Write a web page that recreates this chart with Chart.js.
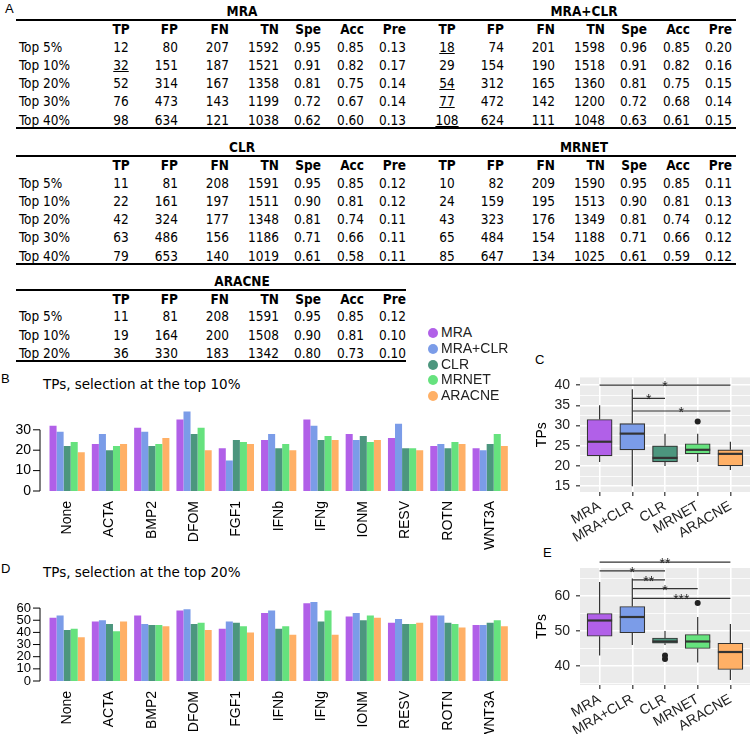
<!DOCTYPE html>
<html>
<head>
<meta charset="utf-8">
<title>TPs per method</title>
<script src="https://cdn.jsdelivr.net/npm/chart.js@4.4.1/dist/chart.umd.min.js"></script>
<style>
  body { margin: 0; width: 754px; height: 734px; position: relative; overflow: hidden; background: #fff;
         font-family: "Liberation Sans", Arial, sans-serif; color: #000; }
  .abs { position: absolute; white-space: nowrap; }
  .tbl { font-family: "Liberation Sans Narrow", "DejaVu Sans Condensed", sans-serif; font-size: 13.5px; line-height: 18px; height: 18px; }
  .hd { font-weight: bold; }
  .rule { position: absolute; border-top: 2px solid #000; height: 0; }
  .letter { font-size: 13px; line-height: 1; }
  .ptitle { font-family: "DejaVu Sans", Verdana, sans-serif; font-size: 13.5px; line-height: 1; }
  .wrap { position: absolute; }
  .leg { font-size: 14px; line-height: 16px; height: 16px; color: #222; }
  .dot { display: inline-block; width: 10px; height: 10px; border-radius: 50%; vertical-align: -1px; margin-right: 3px; }
</style>
</head>
<body>

<div class="abs letter" style="left:5px;top:2px">A</div>
<div class="abs letter" style="left:1px;top:372px">B</div>
<div class="abs letter" style="left:535px;top:353px">C</div>
<div class="abs letter" style="left:1px;top:562px">D</div>
<div class="abs letter" style="left:543px;top:546px">E</div>

<div class="abs ptitle" style="left:43px;top:378px">TPs, selection at the top 10%</div>
<div class="abs ptitle" style="left:43px;top:566px">TPs, selection at the top 20%</div>

<div class="wrap" style="left:0;top:386px;width:517px;height:165px"><canvas id="chartB"></canvas></div>
<div class="wrap" style="left:0;top:578px;width:517px;height:163px"><canvas id="chartD"></canvas></div>
<div class="wrap" style="left:530px;top:363px;width:224px;height:189px"><canvas id="chartC"></canvas></div>
<div class="wrap" style="left:530px;top:548px;width:224px;height:197px"><canvas id="chartE"></canvas></div>

<div id="legend"></div>

<script>
// ---- data ----
const methods = ["MRA", "MRA+CLR", "CLR", "MRNET", "ARACNE"];
const colors = ["#b160e8", "#7b9ce8", "#4c967e", "#66e27e", "#ffb066"];
const perturbations = ["None", "ACTA", "BMP2", "DFOM", "FGF1", "IFNb", "IFNg", "IONM", "RESV", "ROTN", "WNT3A"];

// TPs at the top 10%
const top10MRA    = [32, 23, 31, 35, 21, 25, 35, 28, 26, 22, 21];
const top10MRACLR = [29, 28, 29, 39, 15, 28, 32, 25, 33, 23, 20];
const top10CLR    = [22, 20, 22, 28, 25, 21, 25, 27, 21, 21, 23];
const top10MRNET  = [24, 22, 23, 31, 24, 23, 27, 24, 21, 24, 28];
const top10ARACNE = [19, 23, 26, 20, 23, 20, 25, 25, 20, 23, 22];

// TPs at the top 20%
const top20MRA    = [52, 49, 54, 58, 43, 56, 64, 53, 48, 54, 46];
const top20MRACLR = [54, 50, 47, 59, 49, 58, 65, 56, 51, 54, 46];
const top20CLR    = [42, 47, 46, 47, 48, 43, 49, 50, 47, 48, 48];
const top20MRNET  = [43, 41, 46, 48, 45, 45, 58, 54, 47, 47, 50];
const top20ARACNE = [36, 49, 45, 42, 40, 38, 38, 52, 48, 44, 45];

// significance brackets: [group a, group b, level, label]
const signifC = [[0, 4, 40, "*"], [1, 2, 36.7, "*"], [1, 4, 33.6, "*"]];
const signifE = [[0, 4, 69.7, "**"], [0, 2, 67.2, "*"], [1, 2, 64.6, "**"], [1, 3, 62.1, "*"], [1, 4, 59.3, "***"]];

// table A
const tableCols = ["TP", "FP", "FN", "TN", "Spe", "Acc", "Pre"];
const rowLabels = ["Top 5%", "Top 10%", "Top 20%", "Top 30%", "Top 40%"];
const tabMRA = [
  [12, 80, 207, 1592, "0.95", "0.85", "0.13"],
  [32, 151, 187, 1521, "0.91", "0.82", "0.17"],
  [52, 314, 167, 1358, "0.81", "0.75", "0.14"],
  [76, 473, 143, 1199, "0.72", "0.67", "0.14"],
  [98, 634, 121, 1038, "0.62", "0.60", "0.13"]];
const tabMRACLR = [
  [18, 74, 201, 1598, "0.96", "0.85", "0.20"],
  [29, 154, 190, 1518, "0.91", "0.82", "0.16"],
  [54, 312, 165, 1360, "0.81", "0.75", "0.15"],
  [77, 472, 142, 1200, "0.72", "0.68", "0.14"],
  [108, 624, 111, 1048, "0.63", "0.61", "0.15"]];
const tabCLR = [
  [11, 81, 208, 1591, "0.95", "0.85", "0.12"],
  [22, 161, 197, 1511, "0.90", "0.81", "0.12"],
  [42, 324, 177, 1348, "0.81", "0.74", "0.11"],
  [63, 486, 156, 1186, "0.71", "0.66", "0.11"],
  [79, 653, 140, 1019, "0.61", "0.58", "0.11"]];
const tabMRNET = [
  [10, 82, 209, 1590, "0.95", "0.85", "0.11"],
  [24, 159, 195, 1513, "0.90", "0.81", "0.13"],
  [43, 323, 176, 1349, "0.81", "0.74", "0.12"],
  [65, 484, 154, 1188, "0.71", "0.66", "0.12"],
  [85, 647, 134, 1025, "0.61", "0.59", "0.12"]];
const tabARACNE = [
  [11, 81, 208, 1591, "0.95", "0.85", "0.12"],
  [19, 164, 200, 1508, "0.90", "0.81", "0.10"],
  [36, 330, 183, 1342, "0.80", "0.73", "0.10"]];
// rows whose TP is underlined (best value)
const underMRA = [1];
const underMRACLR = [0, 2, 3, 4];

// ---- table A ----
const colX = [121, 178, 229, 279, 321, 364, 406];  // TP centred, others right edge

function addText(txt, x, y, align, cls) {
  const d = document.createElement('div');
  d.className = 'abs tbl ' + (cls || '');
  d.textContent = txt;
  d.style.top = (y - 9) + 'px';
  if (align === 'left') {
    d.style.left = x + 'px';
  } else if (align === 'center') {
    d.style.left = (x - 40) + 'px'; d.style.width = '80px'; d.style.textAlign = 'center';
  } else {
    d.style.left = (x - 80) + 'px'; d.style.width = '80px'; d.style.textAlign = 'right';
  }
  document.body.appendChild(d);
  return d;
}

function addRule(x1, x2, y) {
  const r = document.createElement('div');
  r.className = 'rule';
  r.style.left = x1 + 'px';
  r.style.width = (x2 - x1) + 'px';
  r.style.top = y + 'px';
  document.body.appendChild(r);
}

function band(y0, blocks) {
  const right = blocks.length > 1 ? 736 : 406;
  const nRows = blocks[0].rows.length;
  addRule(16, right, y0 + 8);
  blocks.forEach((b, k) => {
    const dx = k * 326;
    addText(b.title, 242 + k * 342, y0, 'center', 'hd');
    tableCols.forEach((c, j) => addText(c, colX[j] + dx, y0 + 18, j === 0 ? 'center' : 'right', 'hd'));
    b.rows.forEach((row, i) => {
      const y = y0 + 35.7 + i * 18.2;
      if (k === 0) addText(rowLabels[i], 19, y, 'left');
      row.forEach((v, j) => {
        const d = addText(String(v), colX[j] + dx, y, j === 0 ? 'center' : 'right');
        if (j === 0 && b.under.includes(i)) d.style.textDecoration = 'underline';
      });
    });
  });
  addRule(16, right, y0 + 35.7 + (nRows - 1) * 18.2 + 7);
}

band(11, [{title: "MRA", rows: tabMRA, under: underMRA}, {title: "MRA+CLR", rows: tabMRACLR, under: underMRACLR}]);
band(147, [{title: "CLR", rows: tabCLR, under: []}, {title: "MRNET", rows: tabMRNET, under: []}]);
band(280.7, [{title: "ARACNE", rows: tabARACNE, under: []}]);

// ---- legend ----
const leg = document.getElementById('legend');
methods.forEach((m, i) => {
  const d = document.createElement('div');
  d.className = 'abs leg';
  d.style.left = '428px';
  d.style.top = (324 + i * 15.8) + 'px';
  d.innerHTML = '<span class="dot" style="background:' + colors[i] + '"></span>' + m;
  leg.appendChild(d);
});

// ---- charts ----
Chart.defaults.font.family = '"Liberation Sans", Arial, sans-serif';
Chart.defaults.color = '#000';

// base-R style left axis: line from 0 to the last labelled tick
const rAxis = {
  id: 'rAxis',
  afterDraw(chart, args, opts) {
    const y = chart.scales.y, ctx = chart.ctx;
    const x = chart.chartArea.left - 6;
    ctx.save();
    ctx.strokeStyle = '#000';
    ctx.lineWidth = 1;
    ctx.beginPath();
    ctx.moveTo(x, y.getPixelForValue(0));
    ctx.lineTo(x, y.getPixelForValue(opts.top));
    y.ticks.forEach(t => {
      const py = y.getPixelForValue(t.value);
      ctx.moveTo(x - 7, py);
      ctx.lineTo(x, py);
    });
    ctx.stroke();
    ctx.restore();
  }
};

function barChart(id, series, yMax, axisTop, tickFont) {
  return new Chart(document.getElementById(id), {
    type: 'bar',
    data: {
      labels: perturbations,
      datasets: methods.map((m, i) => ({
        label: m, data: series[i], backgroundColor: colors[i], borderWidth: 0,
        categoryPercentage: 5 / 6, barPercentage: 1
      }))
    },
    options: {
      responsive: true, maintainAspectRatio: false, animation: false, devicePixelRatio: 1,
      layout: {padding: {top: 10, left: 0, right: 0, bottom: 0}},
      plugins: {legend: {display: false}, tooltip: {enabled: false}, rAxis: {top: axisTop}},
      scales: {
        x: {
          grid: {display: false, drawTicks: false}, border: {display: false},
          ticks: {autoSkip: false, minRotation: 90, maxRotation: 90, padding: 10, font: {size: 14}},
          afterFit: s => { s.height = 60; }
        },
        y: {
          min: 0, max: yMax,
          grid: {display: false, drawTicks: false}, border: {display: false},
          ticks: {stepSize: 10, padding: 15, autoSkip: false, includeBounds: false, font: {size: tickFont}},
          afterBuildTicks: s => { s.ticks = s.ticks.filter(t => t.value <= axisTop); },
          afterFit: s => { s.width = 46; }
        }
      }
    },
    plugins: [rAxis]
  });
}

barChart('chartB', [top10MRA, top10MRACLR, top10CLR, top10MRNET, top10ARACNE], 40, 30, 14);
barChart('chartD', [top20MRA, top20MRACLR, top20CLR, top20MRNET, top20ARACNE], 66, 60, 13);

// boxplot statistics (type-7 quantiles, 1.5 IQR whiskers)
function boxStats(v) {
  const s = [...v].sort((a, b) => a - b), n = s.length;
  const q = p => {
    const h = (n - 1) * p, lo = Math.floor(h);
    const hi = Math.min(lo + 1, n - 1);
    return s[lo] + (h - lo) * (s[hi] - s[lo]);
  };
  const q1 = q(0.25), med = q(0.5), q3 = q(0.75), iqr = q3 - q1;
  const inner = s.filter(x => x >= q1 - 1.5 * iqr && x <= q3 + 1.5 * iqr);
  return {q1, med, q3, lo: inner[0], hi: inner[inner.length - 1],
          out: s.filter(x => x < q1 - 1.5 * iqr || x > q3 + 1.5 * iqr)};
}

const ggBox = {
  id: 'ggBox',
  beforeDraw(chart) {
    const a = chart.chartArea, ctx = chart.ctx;
    ctx.save();
    ctx.fillStyle = '#ebebeb';
    ctx.fillRect(a.left, a.top, a.right - a.left, a.bottom - a.top);
    ctx.restore();
  },
  beforeDatasetsDraw(chart, args, opts) {
    const xs = chart.scales.x, ys = chart.scales.y, ctx = chart.ctx;
    ctx.save();
    ctx.strokeStyle = '#333';
    ctx.lineWidth = 1.2;
    opts.stats.forEach((s, i) => {
      const x = xs.getPixelForValue(i);
      ctx.beginPath();
      ctx.moveTo(x, ys.getPixelForValue(s.hi));
      ctx.lineTo(x, ys.getPixelForValue(s.q3));
      ctx.moveTo(x, ys.getPixelForValue(s.q1));
      ctx.lineTo(x, ys.getPixelForValue(s.lo));
      ctx.stroke();
    });
    ctx.restore();
  },
  afterDatasetsDraw(chart, args, opts) {
    const xs = chart.scales.x, ys = chart.scales.y, ctx = chart.ctx;
    ctx.save();
    ctx.strokeStyle = '#333';
    ctx.lineWidth = 2.2;
    opts.stats.forEach((s, i) => {
      const x = xs.getPixelForValue(i), y = ys.getPixelForValue(s.med);
      ctx.beginPath();
      ctx.moveTo(x - 12.5, y);
      ctx.lineTo(x + 12.5, y);
      ctx.stroke();
    });
    // significance brackets
    ctx.lineWidth = 1.2;
    ctx.fillStyle = '#222';
    ctx.font = '14px "Liberation Sans", Arial, sans-serif';
    ctx.textAlign = 'center';
    ctx.textBaseline = 'alphabetic';
    opts.signif.forEach(([a, b, lvl, lab]) => {
      const x1 = xs.getPixelForValue(a), x2 = xs.getPixelForValue(b), y = ys.getPixelForValue(lvl);
      ctx.beginPath();
      ctx.moveTo(x1, y);
      ctx.lineTo(x2, y);
      ctx.stroke();
      ctx.fillText(lab, (x1 + x2) / 2, y + 6);
    });
    ctx.restore();
  }
};

function boxChart(id, series, yMin, yMax, step, major, signif, padTop) {
  const stats = series.map(boxStats);
  const outliers = [];
  stats.forEach((s, i) => s.out.forEach(o => outliers.push({x: i, y: o})));
  return new Chart(document.getElementById(id), {
    type: 'bar',
    data: {
      datasets: [
        {type: 'bar', data: stats.map((s, i) => ({x: i, y: [s.q1, s.q3]})),
         backgroundColor: colors, borderColor: '#333', borderWidth: 1.2, borderSkipped: false, barThickness: 25},
        {type: 'scatter', data: outliers, pointRadius: 3, backgroundColor: '#222', borderWidth: 0}
      ]
    },
    options: {
      responsive: true, maintainAspectRatio: false, animation: false, devicePixelRatio: 1,
      layout: {padding: {top: padTop, left: 0, right: 0, bottom: 0}},
      plugins: {legend: {display: false}, tooltip: {enabled: false}, ggBox: {stats, signif}},
      scales: {
        x: {
          type: 'linear', min: -0.6, max: 4.6, offset: false,
          grid: {color: '#fff', lineWidth: 1.6, offset: false, tickColor: '#333', tickLength: 4, tickWidth: 1.2},
          border: {display: false},
          ticks: {stepSize: 1, includeBounds: false, autoSkip: false, minRotation: 30, maxRotation: 30,
                  padding: 2, font: {size: 14}, color: '#222', callback: v => methods[v]},
          afterFit: s => { s.height = 60; }
        },
        y: {
          min: yMin, max: yMax,
          grid: {color: '#fff', lineWidth: c => (c.tick.value % major === 0 ? 1.6 : 0.8),
                 tickColor: c => (c.tick.value % major === 0 ? '#333' : 'rgba(0,0,0,0)'), tickLength: 4, tickWidth: 1.2},
          border: {display: false},
          ticks: {stepSize: step, includeBounds: false, autoSkip: false, padding: 6, font: {size: 14}, color: '#222',
                  callback: v => (v % major === 0 ? v : '')},
          title: {display: true, text: 'TPs', font: {size: 14}, color: '#000', padding: 4},
          afterFit: s => { s.width = 50; }
        }
      }
    },
    plugins: [ggBox]
  });
}

boxChart('chartC', [top10MRA, top10MRACLR, top10CLR, top10MRNET, top10ARACNE], 13.57, 41.9, 2.5, 5, signifC, 10);
boxChart('chartE', [top20MRA, top20MRACLR, top20CLR, top20MRNET, top20ARACNE], 34.57, 68, 5, 10, signifE, 20);
</script>
</body>
</html>
